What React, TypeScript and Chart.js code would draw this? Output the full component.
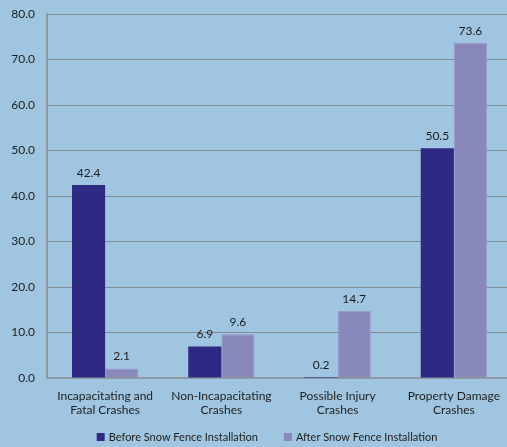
import React, { useEffect, useRef } from "react";
import { Chart, registerables } from "chart.js";

Chart.register(...registerables);

const categories: string[][] = [
  ["Incapacitating and", "Fatal Crashes"],
  ["Non-Incapacitating", "Crashes"],
  ["Possible Injury", "Crashes"],
  ["Property Damage", "Crashes"],
];
const beforeValues = [42.4, 6.9, 0.2, 50.5];
const afterValues = [2.1, 9.6, 14.7, 73.6];
const seriesNames = ["Before Snow Fence Installation", "After Snow Fence Installation"];
const seriesColors = ["#2e2a84", "#8988ba"];

const FONT = "Lato, 'Open Sans', sans-serif";

const valueLabels = {
  id: "valueLabels",
  afterDatasetsDraw(chart: any) {
    const ctx = chart.ctx;
    ctx.save();
    ctx.font = `12px ${FONT}`;
    ctx.fillStyle = "#1e1e1e";
    ctx.textAlign = "center";
    ctx.textBaseline = "bottom";
    chart.data.datasets.forEach((ds: any, i: number) => {
      const meta = chart.getDatasetMeta(i);
      meta.data.forEach((bar: any, j: number) => {
        ctx.fillText(Number(ds.data[j]).toFixed(1), bar.x, bar.y - 6);
      });
    });
    ctx.restore();
  },
};

const bgPlugin = {
  id: "bg",
  beforeDraw(chart: any) {
    const ctx = chart.ctx;
    ctx.save();
    ctx.fillStyle = "#9fc5e0";
    ctx.fillRect(0, 0, chart.width, chart.height);
    ctx.restore();
  },
};

const legendPlugin = {
  id: "customLegend",
  afterDraw(chart: any) {
    const ctx = chart.ctx;
    ctx.save();
    ctx.font = `11px ${FONT}`;
    ctx.textBaseline = "middle";
    ctx.textAlign = "left";
    const box = 8;
    const gap = 4;
    const spacing = 26;
    const widths = chart.data.datasets.map((ds: any) => box + gap + ctx.measureText(ds.label).width);
    const total = widths.reduce((a: number, b: number) => a + b, 0) + spacing * (widths.length - 1);
    const cy = chart.height - 10;
    let x = 267 - total / 2;
    chart.data.datasets.forEach((ds: any, i: number) => {
      ctx.fillStyle = ds.backgroundColor;
      ctx.fillRect(x, cy - box / 2, box, box);
      ctx.fillStyle = "#1e1e1e";
      ctx.fillText(ds.label, x + box + gap, cy);
      x += widths[i] + spacing;
    });
    ctx.restore();
  },
};

export default function App() {
  const ref = useRef<HTMLCanvasElement>(null);
  useEffect(() => {
    document.body.style.margin = "0";
    document.body.style.overflow = "hidden";
    const chart = new Chart(ref.current!, {
      type: "bar",
      data: {
        labels: categories,
        datasets: [
          {
            label: seriesNames[0],
            data: beforeValues,
            backgroundColor: seriesColors[0],
            borderWidth: 0,
            barPercentage: 1,
            categoryPercentage: 0.57,
          },
          {
            label: seriesNames[1],
            data: afterValues,
            backgroundColor: seriesColors[1],
            borderColor: "#9a9acb",
            borderWidth: 1,
            barPercentage: 1,
            categoryPercentage: 0.57,
          },
        ],
      },
      options: {
        animation: false,
        responsive: false,
        maintainAspectRatio: false,
        layout: { padding: { top: 14, right: 8, left: 0, bottom: 20 } },
        plugins: {
          tooltip: { enabled: false },
          legend: { display: false },
        },
        scales: {
          x: {
            grid: { display: false, drawTicks: false },
            border: { color: "#8e99a4", width: 2 },
            ticks: {
              color: "#1e1e1e",
              font: { size: 12, family: FONT },
              padding: 11,
              maxRotation: 0,
              autoSkip: false,
            },
            afterFit(scale: any) {
              scale.height = 49;
              scale.paddingLeft = 0;
              scale.paddingRight = 0;
            },
          },
          y: {
            min: 0,
            max: 80,
            grid: { color: "#858b92", drawTicks: false },
            border: { color: "#8e99a4", width: 2 },
            ticks: {
              stepSize: 10,
              color: "#1e1e1e",
              font: { size: 12, family: FONT },
              padding: 12,
              callback: (v: any) => Number(v).toFixed(1),
            },
            afterFit(scale: any) {
              scale.width = 47;
              scale.paddingTop = 0;
              scale.paddingBottom = 0;
            },
          },
        },
      },
      plugins: [bgPlugin, valueLabels, legendPlugin],
    });
    return () => chart.destroy();
  }, []);
  return (
    <div style={{ position: "fixed", left: 0, top: 0, width: 507, height: 447, overflow: "hidden" }}>
      <canvas ref={ref} width={520} height={447} style={{ display: "block" }} />
    </div>
  );
}
